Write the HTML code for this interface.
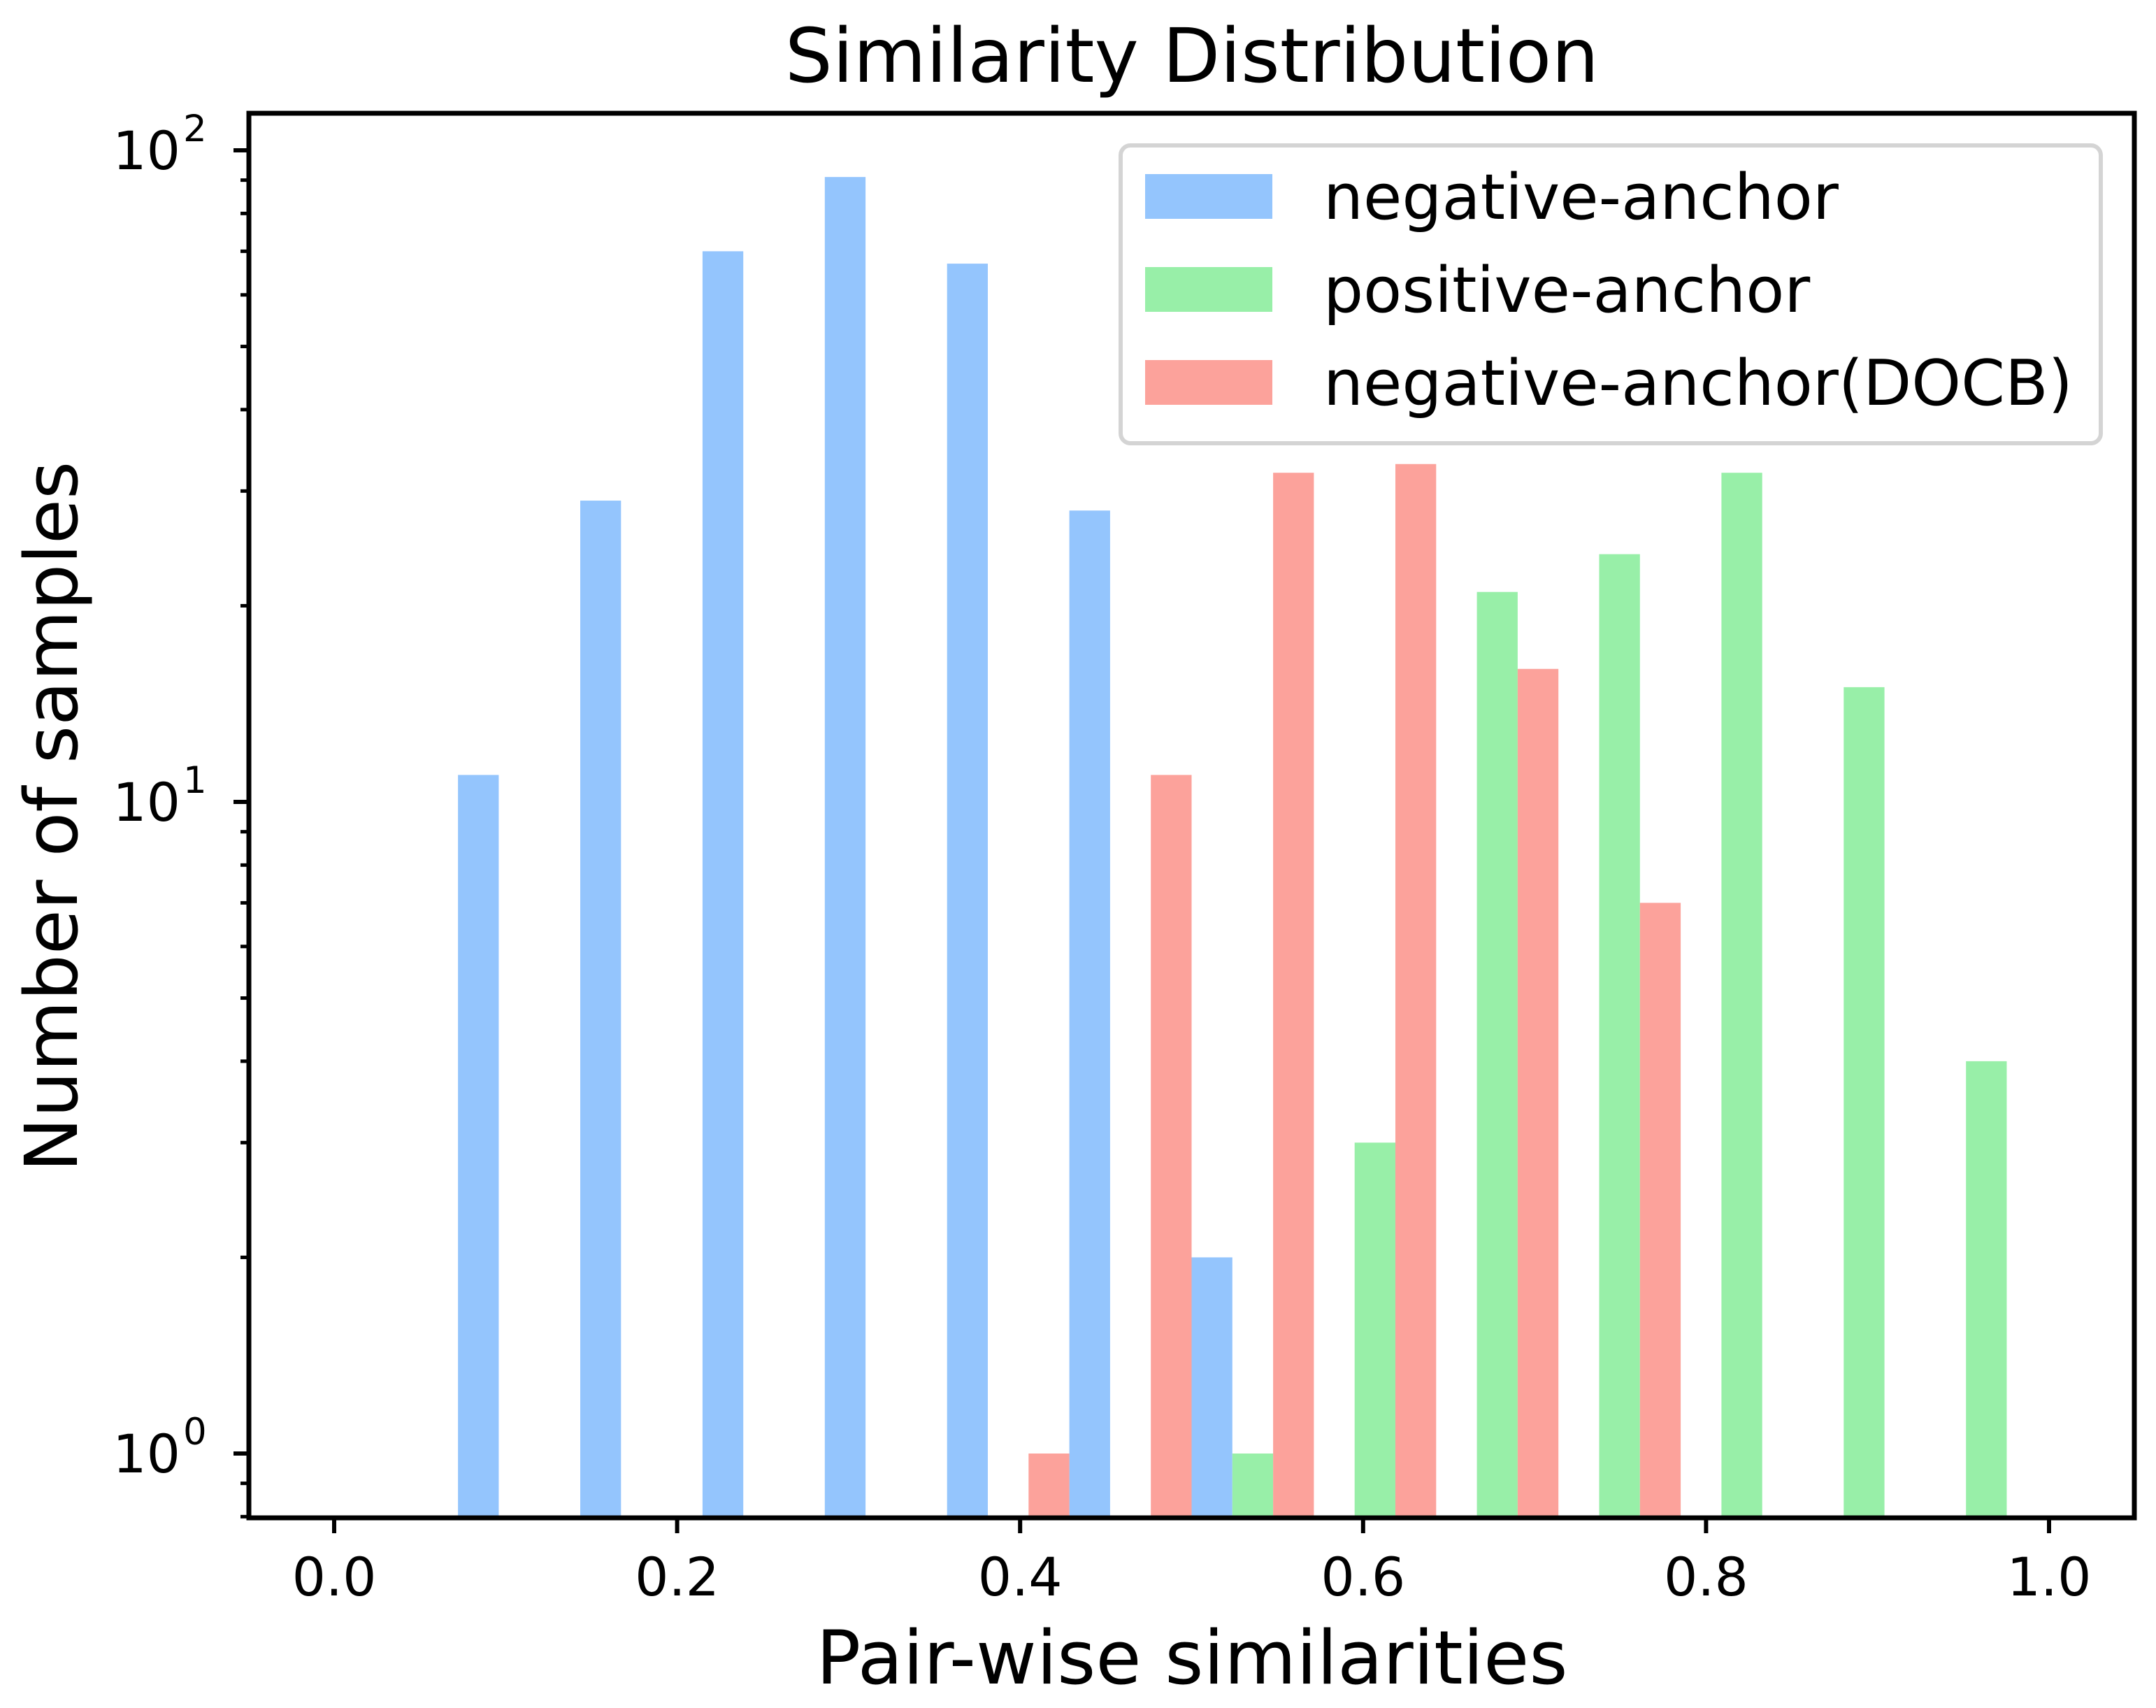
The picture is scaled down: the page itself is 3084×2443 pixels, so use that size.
<!DOCTYPE html>
<html><head><meta charset="utf-8"><style>
html,body{margin:0;padding:0;background:#fff;}
svg{display:block;}
text{font-family:"DejaVu Sans","Liberation Sans",sans-serif;fill:#000;}
</style></head><body>
<svg id="chart" width="3084" height="2443" viewBox="0 0 3084 2443" xmlns="http://www.w3.org/2000/svg">
<rect x="0" y="0" width="3084" height="2443" fill="#fff"/>
<g id="bars"></g>
<g id="axes"></g>
<text x="1705" y="117" font-size="107" text-anchor="middle">Similarity Distribution</text>
<text x="1705" y="2408" font-size="106" text-anchor="middle">Pair-wise similarities</text>
<text transform="translate(110,1168) rotate(-90)" font-size="104" text-anchor="middle">Number of samples</text>
<g>
<rect x="1603" y="208" width="1402" height="426" rx="14" fill="#fff" stroke="#d4d4d4" stroke-width="6"/>
<rect x="1638" y="249" width="182" height="64" fill="#94c5fd"/>
<text x="1893" y="313" font-size="90">negative-anchor</text>
<rect x="1638" y="382" width="182" height="64" fill="#98efa8"/>
<text x="1893" y="446" font-size="90">positive-anchor</text>
<rect x="1638" y="515" width="182" height="64" fill="#fca29b"/>
<text x="1893" y="579" font-size="90">negative-anchor(DOCB)</text>
</g>
</svg>
<script>
const binStart = 0.0722;
const binWidth = 0.0713;
const negativeAnchor = [11, 29, 70, 91, 67, 28, 2, 0, 0, 0, 0, 0, 0];
const positiveAnchor = [0, 0, 0, 0, 0, 0, 1, 3, 21, 24, 32, 15, 4];
const negativeDocb = [0, 0, 0, 0, 1, 11, 32, 33, 16, 7, 0, 0, 0];
const xTickLabels = ["0.0", "0.2", "0.4", "0.6", "0.8", "1.0"];
const xTickValues = [0, 0.2, 0.4, 0.6, 0.8, 1.0];
const yTickExps = [0, 1, 2];

const NS = "http://www.w3.org/2000/svg";
const L = 356, R = 3053, T = 162, B = 2171;
function xs(v){ return 478 + v * 2453; }
function ys(v){ return 2079 - Math.log10(v) * 932; }
function mk(tag, attrs, parent){ const e = document.createElementNS(NS, tag); for (const k in attrs) e.setAttribute(k, attrs[k]); parent.appendChild(e); return e; }

const bars = document.getElementById('bars');
const series = [[negativeAnchor, '#94c5fd', 'negative'], [positiveAnchor, '#98efa8', 'positive'], [negativeDocb, '#fca29b', 'docb']];
series.forEach(function(s, si){
  s[0].forEach(function(v, i){
    if (v <= 0) return;
    const x0 = binStart + i * binWidth + si * binWidth / 3;
    const x1 = x0 + binWidth / 3;
    const r = mk('rect', {x: xs(x0), y: ys(v), width: xs(x1) - xs(x0), height: B - ys(v), fill: s[1]}, bars);
    
    
  });
});

const ax = document.getElementById('axes');
xTickValues.forEach(function(v, i){
  const t = mk('line', {x1: xs(v), x2: xs(v), y1: B, y2: B + 22, stroke: '#000', 'stroke-width': 6}, ax);
  
  
  const lb = mk('text', {x: xs(v), y: 2282, 'font-size': 76, 'text-anchor': 'middle'}, ax);
  lb.textContent = xTickLabels[i];
  
  
});
for (let e = -1; e <= 2; e++) {
  for (let m = 1; m <= 9; m++) {
    const v = m * Math.pow(10, e);
    const y = ys(v);
    if (y > B + 2 || y < T) continue;
    const major = (m === 1);
    const t = mk('line', {x1: L - (major ? 22 : 12), x2: L, y1: y, y2: y, stroke: '#000', 'stroke-width': major ? 6 : 5}, ax);
    
    
  }
}
yTickExps.forEach(function(e){
  const y = ys(Math.pow(10, e));
  const lb = mk('text', {x: 258, y: y + 27, 'font-size': 76, 'text-anchor': 'end'}, ax);
  lb.textContent = '10';
  
  
  const sp = mk('text', {x: 262, y: y - 13, 'font-size': 53}, ax);
  sp.textContent = String(e);
  
  
});
const frame = mk('rect', {x: L, y: T, width: R - L, height: B - T, fill: 'none', stroke: '#000', 'stroke-width': 7}, ax);


</script>
</body></html>
